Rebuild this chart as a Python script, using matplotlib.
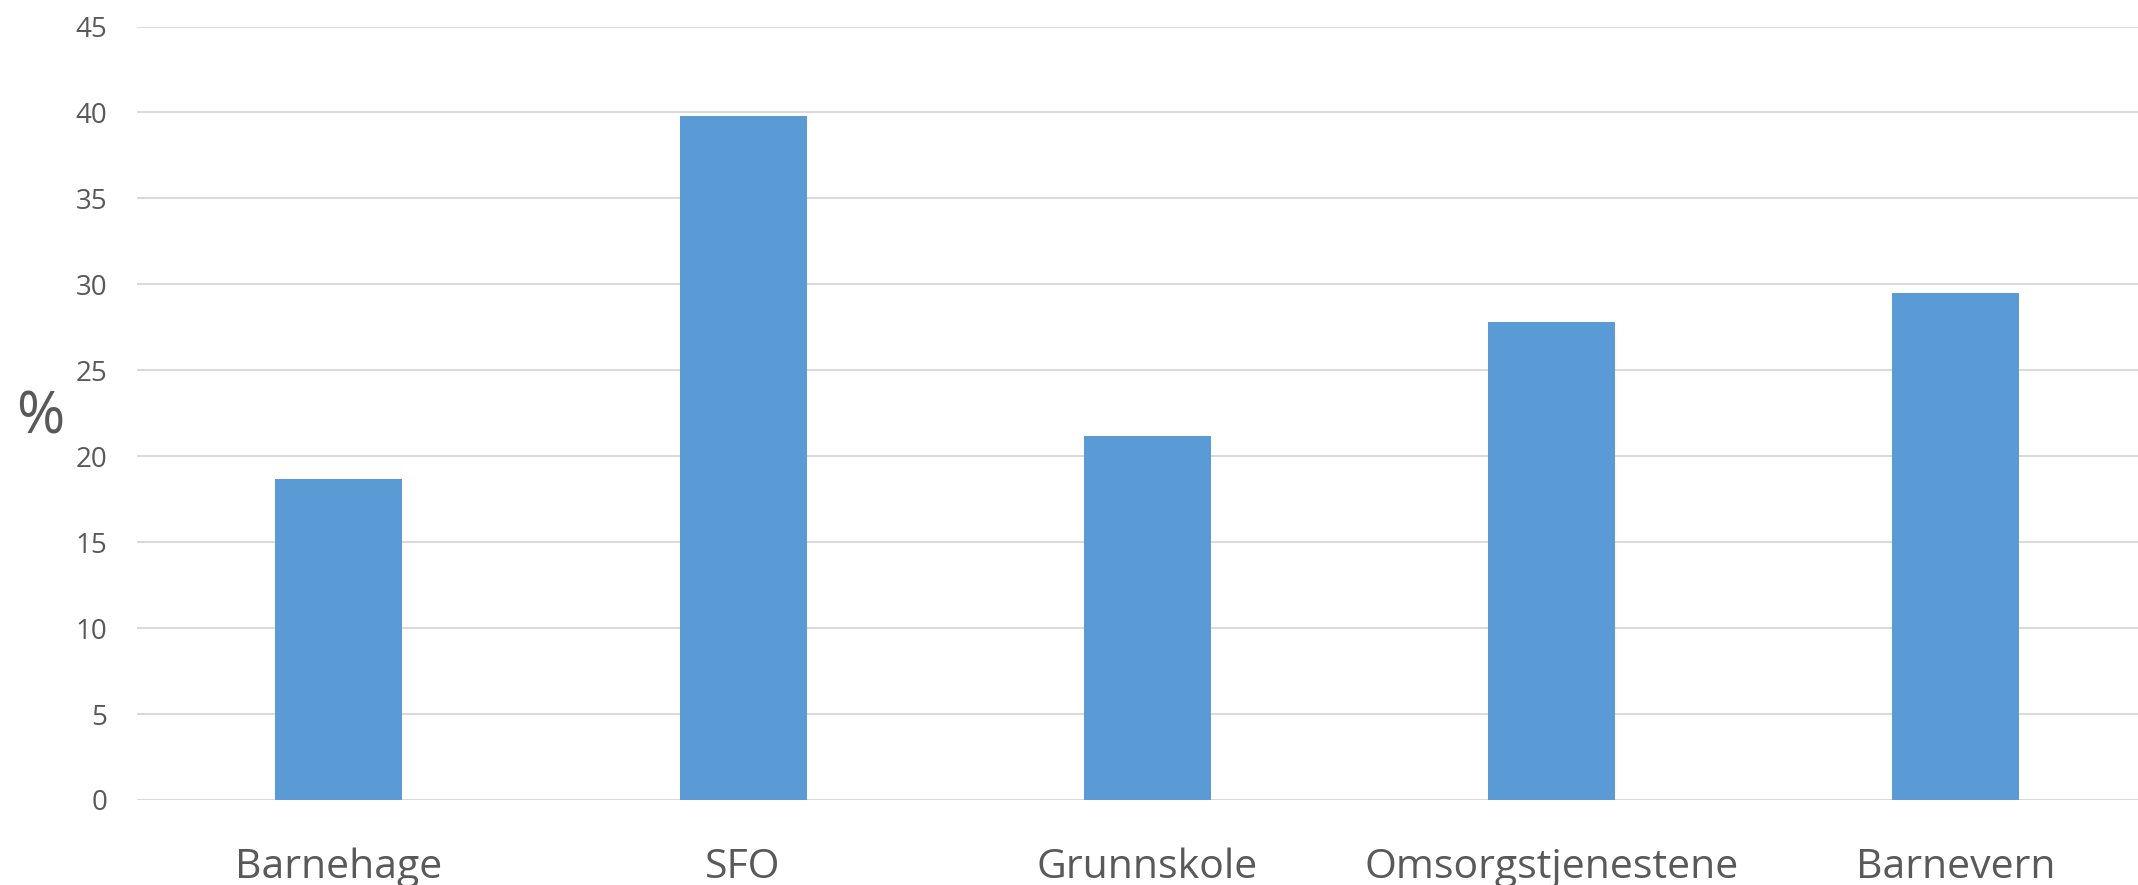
#!/usr/bin/env python3
"""
Andel (%) per tjenesteområde - stolpediagram
"""

import matplotlib
matplotlib.use('Agg')
import matplotlib.pyplot as plt
import numpy as np

# Data lest av figuren
categories = ['Barnehage', 'SFO', 'Grunnskole', 'Omsorgstjenestene', 'Barnevern']
values = [18.7, 39.8, 21.2, 27.8, 29.5]
y_ticks = [0, 5, 10, 15, 20, 25, 30, 35, 40, 45]

BAR_COLOR = '#5B9BD5'
GRID_COLOR = '#D9D9D9'
TEXT_COLOR = '#595959'

plt.rcParams['font.family'] = ['Open Sans', 'DejaVu Sans']

W, H = 2138, 885
fig = plt.figure(figsize=(W / 100, H / 100), dpi=100)

# Plottområdet i pikselkoordinater (høyre kant er kuttet i originalen)
left_px, right_px = 136.7, 2158
bottom_px, top_px = 800, 26.5
ax = fig.add_axes([left_px / W, (H - bottom_px) / H,
                   (right_px - left_px) / W, (bottom_px - top_px) / H])

x = np.arange(len(categories))
ax.bar(x, values, width=0.314, color=BAR_COLOR, zorder=3)

ax.set_xlim(-0.5, len(categories) - 0.5)
ax.set_ylim(0, 45)
ax.set_yticks(y_ticks)
ax.set_xticks(x)
ax.set_xticklabels(categories)

ax.grid(axis='y', color=GRID_COLOR, linewidth=1.4, zorder=0)
ax.set_axisbelow(True)
for side in ['top', 'right', 'left', 'bottom']:
    ax.spines[side].set_visible(False)
ax.axhline(0, color=GRID_COLOR, linewidth=1.4, zorder=1)

ax.tick_params(axis='y', length=0, pad=21, labelsize=20, labelcolor=TEXT_COLOR)
ax.tick_params(axis='x', length=0, pad=34, labelsize=29.5, labelcolor=TEXT_COLOR)

fig.text(40 / W, (H - 418) / H, '%', fontsize=42, color=TEXT_COLOR,
         ha='center', va='center')

fig.savefig('out.png', dpi=100, facecolor='white')
plt.close(fig)
